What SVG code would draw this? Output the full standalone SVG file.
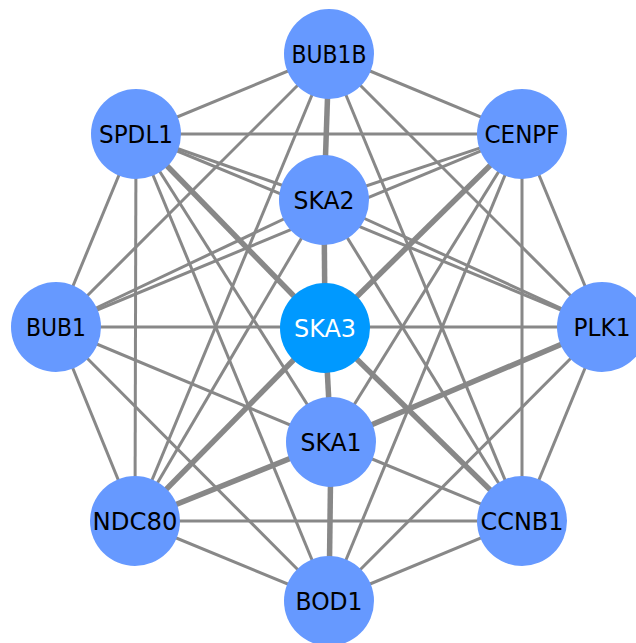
<svg xmlns="http://www.w3.org/2000/svg" width="636" height="643" viewBox="0 0 636 643">
<style>
.e{stroke:#888888;stroke-width:3;fill:none}
.t{stroke:#888888;stroke-width:5.5;fill:none}
.n{fill:#6699ff}
.c{fill:#0099ff}
text{font-family:"DejaVu Sans","Liberation Sans",Arial,sans-serif;font-size:24px;text-anchor:middle;fill:#000}
.w{fill:#ffffff}
</style>
<rect width="636" height="643" fill="#ffffff"/>
<g id="connectors">
<line class="e" x1="329" y1="54" x2="136" y2="134"/>
<line class="e" x1="329" y1="54" x2="522" y2="134"/>
<line class="e" x1="329" y1="54" x2="56" y2="327"/>
<line class="e" x1="329" y1="54" x2="602" y2="327"/>
<line class="e" x1="329" y1="54" x2="135" y2="521"/>
<line class="e" x1="329" y1="54" x2="522" y2="521"/>
<line class="e" x1="136" y1="134" x2="522" y2="134"/>
<line class="e" x1="136" y1="134" x2="56" y2="327"/>
<line class="e" x1="136" y1="134" x2="135" y2="521"/>
<line class="e" x1="136" y1="134" x2="329" y2="601"/>
<line class="e" x1="136" y1="134" x2="331" y2="442"/>
<line class="e" x1="136" y1="134" x2="324" y2="200"/>
<line class="e" x1="136" y1="134" x2="602" y2="327"/>
<line class="e" x1="522" y1="134" x2="602" y2="327"/>
<line class="e" x1="522" y1="134" x2="522" y2="521"/>
<line class="e" x1="522" y1="134" x2="329" y2="601"/>
<line class="e" x1="522" y1="134" x2="331" y2="442"/>
<line class="e" x1="522" y1="134" x2="324" y2="200"/>
<line class="e" x1="522" y1="134" x2="56" y2="327"/>
<line class="e" x1="324" y1="200" x2="56" y2="327"/>
<line class="e" x1="324" y1="200" x2="602" y2="327"/>
<line class="e" x1="324" y1="200" x2="135" y2="521"/>
<line class="e" x1="324" y1="200" x2="522" y2="521"/>
<line class="e" x1="56" y1="327" x2="602" y2="327"/>
<line class="e" x1="56" y1="327" x2="331" y2="442"/>
<line class="e" x1="56" y1="327" x2="135" y2="521"/>
<line class="e" x1="56" y1="327" x2="329" y2="601"/>
<line class="e" x1="602" y1="327" x2="522" y2="521"/>
<line class="e" x1="602" y1="327" x2="329" y2="601"/>
<line class="e" x1="331" y1="442" x2="522" y2="521"/>
<line class="e" x1="135" y1="521" x2="522" y2="521"/>
<line class="e" x1="135" y1="521" x2="329" y2="601"/>
<line class="e" x1="522" y1="521" x2="329" y2="601"/>
<line class="t" x1="329" y1="54" x2="324" y2="200"/>
<line class="t" x1="324" y1="200" x2="325" y2="328"/>
<line class="t" x1="325" y1="328" x2="331" y2="442"/>
<line class="t" x1="331" y1="442" x2="329" y2="601"/>
<line class="t" x1="136" y1="134" x2="325" y2="328"/>
<line class="t" x1="522" y1="134" x2="325" y2="328"/>
<line class="t" x1="325" y1="328" x2="135" y2="521"/>
<line class="t" x1="325" y1="328" x2="522" y2="521"/>
<line class="t" x1="331" y1="442" x2="602" y2="327"/>
<line class="t" x1="331" y1="442" x2="135" y2="521"/>
</g>
<g id="BUB1B"><circle class="n" cx="329" cy="54" r="45"/><text x="329" y="63" textLength="75" lengthAdjust="spacingAndGlyphs">BUB1B</text></g>
<g id="SPDL1"><circle class="n" cx="136" cy="134" r="45"/><text x="136" y="143" textLength="74" lengthAdjust="spacingAndGlyphs">SPDL1</text></g>
<g id="CENPF"><circle class="n" cx="522" cy="134" r="45"/><text x="522" y="143" textLength="75" lengthAdjust="spacingAndGlyphs">CENPF</text></g>
<g id="SKA2"><circle class="n" cx="324" cy="200" r="45"/><text x="324" y="209" textLength="61" lengthAdjust="spacingAndGlyphs">SKA2</text></g>
<g id="BUB1"><circle class="n" cx="56" cy="327" r="45"/><text x="56" y="336" textLength="60" lengthAdjust="spacingAndGlyphs">BUB1</text></g>
<g id="SKA3"><circle class="c" cx="325" cy="328" r="45"/><text class="w" x="325" y="337" textLength="62" lengthAdjust="spacingAndGlyphs">SKA3</text></g>
<g id="PLK1"><circle class="n" cx="602" cy="327" r="45"/><text x="602" y="336" textLength="57" lengthAdjust="spacingAndGlyphs">PLK1</text></g>
<g id="SKA1"><circle class="n" cx="331" cy="442" r="45"/><text x="331" y="451" textLength="61" lengthAdjust="spacingAndGlyphs">SKA1</text></g>
<g id="NDC80"><circle class="n" cx="135" cy="521" r="45"/><text x="135" y="530" textLength="85" lengthAdjust="spacingAndGlyphs">NDC80</text></g>
<g id="CCNB1"><circle class="n" cx="522" cy="521" r="45"/><text x="522" y="530" textLength="83" lengthAdjust="spacingAndGlyphs">CCNB1</text></g>
<g id="BOD1"><circle class="n" cx="329" cy="601" r="45"/><text x="329" y="610" textLength="67" lengthAdjust="spacingAndGlyphs">BOD1</text></g>
</svg>
